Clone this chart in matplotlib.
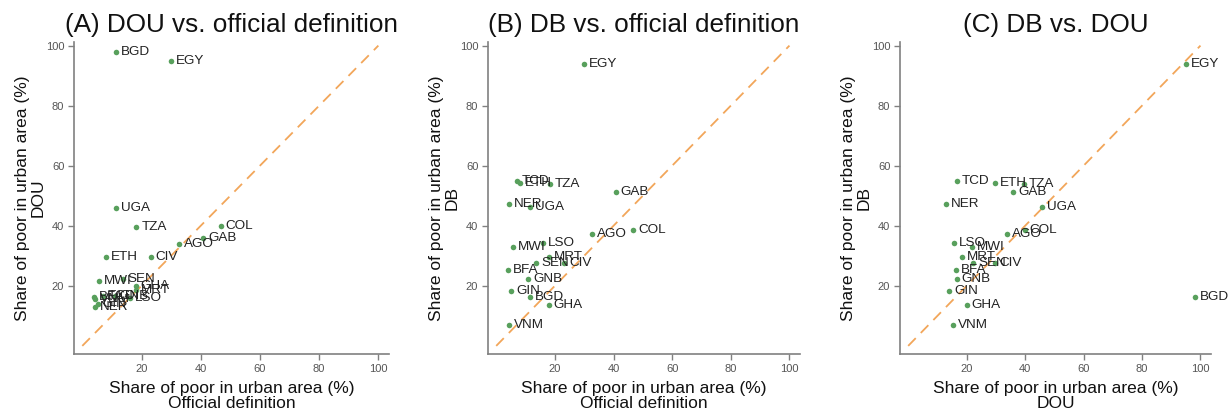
import matplotlib
matplotlib.use("Agg")
import matplotlib.pyplot as plt

plt.rcParams['font.family'] = ['Liberation Sans', 'DejaVu Sans']

countries = ["BGD", "EGY", "UGA", "TZA", "COL", "GAB", "AGO", "CIV", "ETH", "MWI",
             "SEN", "MRT", "GHA", "LSO", "TCD", "NER", "BFA", "GNB", "GIN", "VNM"]
official = [11.5, 30.0, 11.5, 18.3, 46.7, 40.8, 32.7, 23.2, 8.1, 5.8,
            13.7, 18.0, 18.0, 16.0, 7.1, 4.3, 4.1, 10.9, 5.2, 4.4]
dou = [98.0, 95.0, 45.9, 39.7, 39.8, 36.0, 33.8, 29.6, 29.7, 21.7,
       22.3, 18.5, 20.0, 15.8, 16.6, 12.9, 16.3, 16.6, 14.0, 15.5]
db = [16.4, 94.0, 46.4, 54.0, 38.7, 51.3, 37.1, 27.7, 54.2, 32.8,
      27.7, 29.6, 13.7, 34.2, 54.8, 47.1, 25.3, 22.3, 18.4, 6.8]

ticks = [20, 40, 60, 80, 100]

panels = [
    ("(A) DOU vs. official definition", official, dou, "Official definition", "DOU"),
    ("(B) DB vs. official definition", official, db, "Official definition", "DB"),
    ("(C) DB vs. DOU", dou, db, "DOU", "DB"),
]

W, H = 1231, 417
fig = plt.figure(figsize=(W / 100, H / 100), dpi=100)
lefts = [74, 488, 900]
widths = [315, 312, 311]
bottom_px, top_px = 354, 42

green = "#58a05c"
orange = "#f2a65a"
spine_c = "#808080"

for (title, xs, ys, xname, yname), lpx, wpx in zip(panels, lefts, widths):
    ax = fig.add_axes([lpx / W, (H - bottom_px) / H, wpx / W, (bottom_px - top_px) / H])
    ax.plot([0, 100], [0, 100], color=orange, lw=1.3, dashes=(6, 4), zorder=1)
    ax.scatter(xs, ys, s=16, color=green, zorder=3, linewidths=0)
    for name, x, y in zip(countries, xs, ys):
        ax.annotate(name, (x, y), xytext=(3.5, 0), textcoords="offset points",
                    ha="left", va="center", fontsize=9.7, color="#222222", zorder=4)
    ax.set_xlim(-2.8, 103.6)
    ax.set_ylim(-2.7, 101.2)
    ax.set_xticks(ticks)
    ax.set_yticks(ticks)
    ax.tick_params(axis="both", colors=spine_c, labelcolor="#555555", labelsize=8,
                   length=4, width=1, direction="out", pad=3)
    for side in ("top", "right"):
        ax.spines[side].set_visible(False)
    for side in ("left", "bottom"):
        ax.spines[side].set_color(spine_c)
        ax.spines[side].set_linewidth(1.2)
    ax.set_title(title, fontsize=18.8, color="#111111", pad=7)
    ax.set_xlabel("Share of poor in urban area (%)\n" + xname, fontsize=12.5,
                  color="#111111", linespacing=1.05, labelpad=5)
    ax.set_ylabel("Share of poor in urban area (%)\n" + yname, fontsize=12.5,
                  color="#111111", linespacing=1.05, labelpad=0)

fig.savefig("out.png", dpi=100)
